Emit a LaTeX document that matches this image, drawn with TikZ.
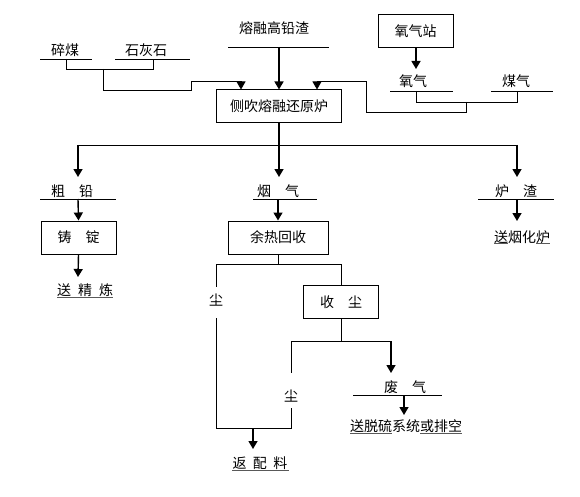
\documentclass[tikz,border=0pt]{standalone}
\usepackage{fontspec}
\setmainfont{Noto Sans CJK SC}
\usetikzlibrary{arrows.meta}
\tikzset{
  box/.style={draw, line width=1pt, inner sep=0pt},
  lbl/.style={inner sep=0pt},
  ln/.style={line width=0.8pt},
  arr/.style={line width=1.4pt, -{Triangle[width=9pt,length=8pt]}},
  arrthin/.style={line width=0.8pt, -{Triangle[width=9pt,length=8pt]}},
  uln/.style={line width=0.8pt, gray!70!black},
}
\begin{document}
\begin{tikzpicture}[x=1pt,y=-1pt,font=\fontsize{14}{16}\selectfont]
\path[use as bounding box] (0,0) rectangle (580,497);

% ---------- boxes ----------
\node[box, minimum width=125pt, minimum height=33pt] (furn) at (279,106.5) {侧吹熔融还原炉};
\node[box, minimum width=75pt, minimum height=33pt] (o2st) at (415.5,31.5) {氧气站};
\node[box, minimum width=75pt, minimum height=33pt] (ingot) at (78.5,237.5) {铸\hspace{1em}锭};
\node[box, minimum width=100pt, minimum height=33pt] (heat) at (278,237.5) {余热回收};
\node[box, minimum width=75pt, minimum height=33pt] (dust) at (341,302) {收\hspace{1em}尘};

% ---------- top inputs ----------
\node[lbl] (suimei) at (65,50) {碎煤};
\coordinate (sm1) at (40,59); \coordinate (sm2) at (92,59);
\draw[ln] (sm1) -- (sm2);
\node[lbl] (shihui) at (146,50) {石灰石};
\coordinate (sh1) at (115,59); \coordinate (sh2) at (190,59);
\draw[ln] (sh1) -- (sh2);
\coordinate (smd) at (66,59); \coordinate (shd) at (153,59);
\draw[ln] (smd) -- (66,69) -- (153,69) -- (shd);
\coordinate (mixj) at (103,69);
\draw[arrthin] (mixj) -- (103,90) -- (191,90) -- (191,81) -- (241,81) -- ([xshift=-38pt]furn.north);

\node[lbl] (slag) at (274,28) {熔融高铅渣};
\coordinate (sl1) at (228,47); \coordinate (sl2) at (329,47);
\draw[ln] (sl1) -- (sl2);
\coordinate (sld) at (279,47);
\draw[arr] (sld) -- (furn.north);

\coordinate (o2out) at (416,69);
\draw[arr] (o2st.south -| o2out) -- (o2out);
\node[lbl] (o2) at (413,81) {氧气};
\coordinate (o21) at (390,91); \coordinate (o22) at (453,91);
\draw[ln] (o21) -- (o22);
\node[lbl] (coalgas) at (516,81) {煤气};
\coordinate (mq1) at (491,91); \coordinate (mq2) at (553,91);
\draw[ln] (mq1) -- (mq2);
\coordinate (o2d) at (416,91); \coordinate (mqd) at (517,91);
\draw[ln] (o2d) -- (416,102) -- (517,102) -- (mqd);
\coordinate (gasj) at (466,102);
\draw[arrthin] (gasj) -- (466,112) -- (366,112) -- (366,81) -- (317,81) -- ([xshift=38pt]furn.north);

% ---------- furnace outputs ----------
\coordinate (bl) at (78,145); \coordinate (br) at (517,145);
\draw[ln] (bl) -- (br);
\coordinate (a1) at (78,177); \coordinate (a2) at (279,177); \coordinate (a3) at (517,177);
\draw[arr] (furn.south) -- (a2);
\draw[arr] (bl) -- (a1);
\draw[arr] (br) -- (a3);

% crude lead
\node[lbl] (lead) at (72,191) {粗\hspace{1em}铅};
\coordinate (ld1) at (40,199); \coordinate (ld2) at (116,199);
\draw[ln] (ld1) -- (ld2);
\coordinate (ldd) at (78,199);
\draw[arr] (ldd) -- (ingot.north);
\coordinate (refout) at (78,277);
\draw[arr] (ingot.south) -- (refout);
\node[lbl] (refine) at (85,290) {送\hspace{0.5em}精\hspace{0.5em}炼};
\draw[uln] (57,297) -- (113,297);

% flue gas
\node[lbl] (flue) at (278,191) {烟\hspace{1em}气};
\coordinate (fg1) at (253,199); \coordinate (fg2) at (317,199);
\draw[ln] (fg1) -- (fg2);
\coordinate (fgd) at (278,199);
\draw[arr] (fgd) -- (heat.north);

\coordinate (hj) at (278,264);
\draw[ln] (heat.south) -- (hj);
\draw[ln] (216,264) -- (341,264);
\node[lbl] (dust1) at (216,300) {尘};
\draw[ln] (216,264) -- (216,287);
\draw[ln] (341,264) -- (dust.north);
\coordinate (dj) at (341,341);
\draw[ln] (dust.south) -- (dj);
\draw[ln] (291,341) -- (391,341);
\coordinate (wgarr) at (391,373);
\draw[arr] (391,341) -- (wgarr);
\node[lbl] (dust2) at (291,396) {尘};
\draw[ln] (291,341) -- (291,373);
\coordinate (rj) at (253,428);
\draw[ln] (216,318) -- (216,428) -- (291,428) -- (291,408);
\coordinate (retout) at (253,449);
\draw[arr] (rj) -- (retout);
\node[lbl] (ret) at (260,463) {返\hspace{0.45em}配\hspace{0.45em}料};
\draw[uln] (232,470) -- (289,470);

% waste gas
\node[lbl] (waste) at (405,387) {废\hspace{1em}气};
\coordinate (wg1) at (353,395); \coordinate (wg2) at (442,395);
\draw[ln] (wg1) -- (wg2);
\coordinate (wgd) at (404,395); \coordinate (wgout) at (404,415);
\draw[arr] (wgd) -- (wgout);
\node[lbl] (desulf) at (406,426) {送脱硫系统或排空};
\draw[uln] (350,433) -- (392,433);
\draw[uln] (420,433) -- (462,433);

% furnace slag
\node[lbl] (fslag) at (516,191) {炉\hspace{1em}渣};
\coordinate (fs1) at (478,199); \coordinate (fs2) at (554,199);
\draw[ln] (fs1) -- (fs2);
\coordinate (fsd) at (517,199); \coordinate (fsout) at (517,221);
\draw[arr] (fsd) -- (fsout);
\node[lbl] (fuming) at (522,237) {送烟化炉};
\draw[uln] (494,243) -- (508,243);
\draw[uln] (536,243) -- (550,243);
\end{tikzpicture}
\end{document}
